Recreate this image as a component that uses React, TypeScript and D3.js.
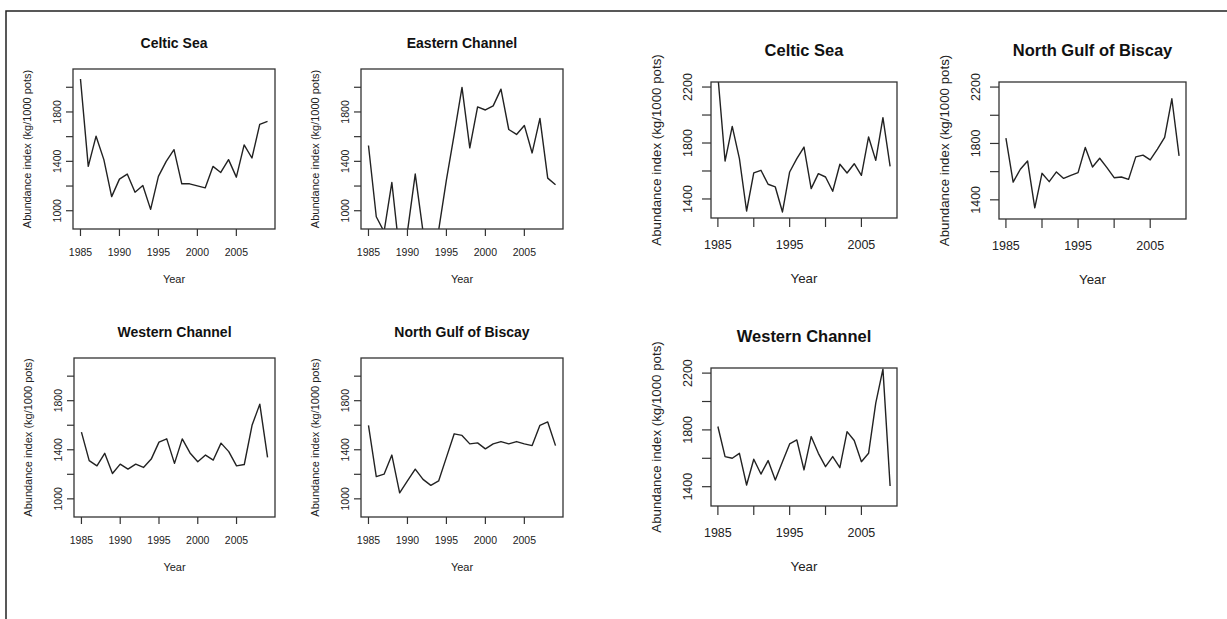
import * as d3 from "d3";

// years shared by every panel
const years = d3.range(1985, 2010);

// left figure (ylim 900-2100)
const celticSeaA = [2067, 1359, 1604, 1414, 1114, 1256, 1297, 1150, 1204, 1011, 1278, 1400, 1495, 1218, 1218, 1201, 1185, 1359, 1310, 1414, 1272, 1533, 1427, 1699, 1724];
const easternChannel = [1528, 951, 830, 1229, 650, 830, 1297, 830, 700, 840, 1250, 1618, 1999, 1509, 1841, 1816, 1849, 1985, 1658, 1618, 1691, 1468, 1748, 1264, 1210];
const westernChannelA = [1544, 1311, 1269, 1371, 1206, 1283, 1242, 1283, 1256, 1324, 1462, 1489, 1289, 1489, 1374, 1302, 1357, 1316, 1454, 1385, 1269, 1280, 1599, 1772, 1338];
const northBiscayA = [1599, 1181, 1201, 1357, 1049, 1146, 1242, 1159, 1110, 1146, 1338, 1530, 1517, 1448, 1456, 1407, 1448, 1467, 1448, 1467, 1448, 1434, 1599, 1627, 1434];

// right figure (ylim 1300-2200)
const celticSeaB = [2280, 1671, 1919, 1688, 1314, 1586, 1605, 1505, 1486, 1307, 1593, 1688, 1771, 1474, 1581, 1557, 1455, 1648, 1586, 1652, 1569, 1843, 1676, 1981, 1633];
const northBiscayB = [1838, 1526, 1617, 1676, 1343, 1588, 1529, 1598, 1552, 1574, 1593, 1771, 1633, 1695, 1628, 1557, 1562, 1545, 1705, 1717, 1683, 1760, 1843, 2117, 1712];
const westernChannelB = [1824, 1612, 1600, 1635, 1412, 1593, 1489, 1584, 1447, 1576, 1701, 1729, 1518, 1753, 1635, 1541, 1612, 1534, 1788, 1725, 1576, 1635, 1988, 2228, 1405];

const xTicks = [1985, 1990, 1995, 2000, 2005];
const yTicksA = [1000, 1200, 1400, 1600, 1800, 2000];
const yLabelsA = [1000, 1400, 1800];
const yTicksB = [1400, 1600, 1800, 2000, 2200];
const yLabelsB = [1400, 1800, 2200];
const xLabelsA = [1985, 1990, 1995, 2000, 2005];
const xLabelsB = [1985, 1995, 2005];

const FONT = "Liberation Sans, Arial, sans-serif";
const INK = "#222";

type Style = {
  title: number;
  tick: number;
  axis: number;
  tickLen: number;
  xLabOff: number;
  yLabOff: number;
  xTitleOff: number;
  yTitleOff: number;
  titleOff: number;
};

const small: Style = { title: 14, tick: 10.5, axis: 11, tickLen: 7, xLabOff: 23, yLabOff: 16, xTitleOff: 50, yTitleOff: 46, titleOff: 26 };
const big: Style = { title: 16.5, tick: 12.5, axis: 13.3, tickLen: 9, xLabOff: 27, yLabOff: 23, xTitleOff: 60, yTitleOff: 55, titleOff: 32 };

type PanelProps = {
  id: string;
  title: string;
  values: number[];
  box: [number, number, number, number]; // left, top, right, bottom
  ylim: [number, number];
  yTicks: number[];
  yLabels: number[];
  xLabels: number[];
  s: Style;
};

function Panel({ id, title, values, box, ylim, yTicks, yLabels, xLabels, s }: PanelProps) {
  const [l, t, r, b] = box;
  // R style 4% extension of the ranges
  const xPad = (2009 - 1985) * 0.04;
  const yPad = (ylim[1] - ylim[0]) * 0.04;
  const x = d3.scaleLinear().domain([1985 - xPad, 2009 + xPad]).range([l, r]);
  const y = d3.scaleLinear().domain([ylim[0] - yPad, ylim[1] + yPad]).range([b, t]);
  const line = d3
    .line<number>()
    .x((_, i) => x(years[i]))
    .y((d) => y(d));
  const cx = (l + r) / 2;
  const cy = (t + b) / 2;

  return (
    <g>
      <clipPath id={id}>
        <rect x={l} y={t} width={r - l} height={b - t} />
      </clipPath>
      <text x={cx} y={t - s.titleOff} textAnchor="middle" dominantBaseline="central" fontSize={s.title} fontWeight="bold" fill="#111">
        {title}
      </text>
      <path d={line(values) || ""} fill="none" stroke={INK} strokeWidth={1.4} clipPath={`url(#${id})`} strokeLinejoin="round" />
      <rect x={l} y={t} width={r - l} height={b - t} fill="none" stroke="#333" strokeWidth={1.3} />
      {xTicks.map((v) => (
        <g key={v}>
          <line x1={x(v)} x2={x(v)} y1={b} y2={b + s.tickLen} stroke="#333" strokeWidth={1.2} />
          {xLabels.includes(v) && (
            <text x={x(v)} y={b + s.xLabOff} textAnchor="middle" dominantBaseline="central" fontSize={s.tick} fill={INK}>
              {v}
            </text>
          )}
        </g>
      ))}
      {yTicks.map((v) => (
        <g key={v}>
          <line x1={l - s.tickLen} x2={l} y1={y(v)} y2={y(v)} stroke="#333" strokeWidth={1.2} />
          {yLabels.includes(v) && (
            <text
              transform={`translate(${l - s.yLabOff},${y(v)}) rotate(-90)`}
              textAnchor="middle"
              dominantBaseline="central"
              fontSize={s.tick}
              fill={INK}
            >
              {v}
            </text>
          )}
        </g>
      ))}
      <text x={cx} y={b + s.xTitleOff} textAnchor="middle" dominantBaseline="central" fontSize={s.axis} fill={INK}>
        Year
      </text>
      <text
        transform={`translate(${l - s.yTitleOff},${cy}) rotate(-90)`}
        textAnchor="middle"
        dominantBaseline="central"
        fontSize={s.axis}
        fill={INK}
      >
        Abundance index (kg/1000 pots)
      </text>
    </g>
  );
}

export default function App() {
  const A: [number, number] = [900, 2100];
  const B: [number, number] = [1300, 2200];
  return (
    <svg width={1227} height={619} style={{ position: "absolute", left: 0, top: 0, fontFamily: FONT, background: "#fff" }}>
      <rect width={1227} height={619} fill="#fff" />
      <path d="M6,619 L6,11 L1227,11" fill="none" stroke="#222" strokeWidth={1.5} />

      <Panel id="p1" title="Celtic Sea" values={celticSeaA} box={[73, 69, 275, 229]} ylim={A} yTicks={yTicksA} yLabels={yLabelsA} xLabels={xLabelsA} s={small} />
      <Panel id="p2" title="Eastern Channel" values={easternChannel} box={[361, 69, 563, 229]} ylim={A} yTicks={yTicksA} yLabels={yLabelsA} xLabels={xLabelsA} s={small} />
      <Panel id="p3" title="Western Channel" values={westernChannelA} box={[74, 358, 275, 517]} ylim={A} yTicks={yTicksA} yLabels={yLabelsA} xLabels={xLabelsA} s={small} />
      <Panel id="p4" title="North Gulf of Biscay" values={northBiscayA} box={[361, 358, 563, 517]} ylim={A} yTicks={yTicksA} yLabels={yLabelsA} xLabels={xLabelsA} s={small} />

      <Panel id="p5" title="Celtic Sea" values={celticSeaB} box={[711, 82, 897, 218]} ylim={B} yTicks={yTicksB} yLabels={yLabelsB} xLabels={xLabelsB} s={big} />
      <Panel id="p6" title="North Gulf of Biscay" values={northBiscayB} box={[999, 82, 1186, 219]} ylim={B} yTicks={yTicksB} yLabels={yLabelsB} xLabels={xLabelsB} s={big} />
      <Panel id="p7" title="Western Channel" values={westernChannelB} box={[711, 368, 897, 506]} ylim={B} yTicks={yTicksB} yLabels={yLabelsB} xLabels={xLabelsB} s={big} />
    </svg>
  );
}
